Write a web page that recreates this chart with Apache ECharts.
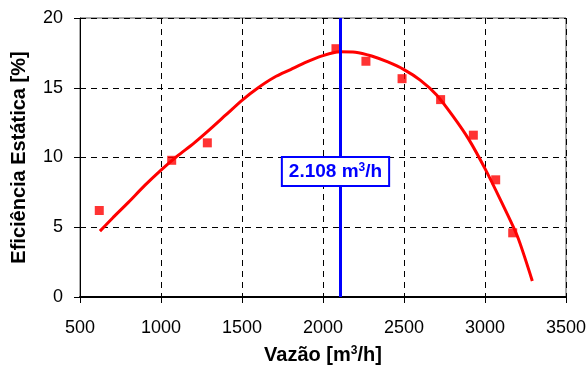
<!DOCTYPE html>
<html>
<head>
<meta charset="utf-8">
<script src="https://cdn.jsdelivr.net/npm/echarts@6/dist/echarts.min.js"></script>
<style>
  html, body { margin: 0; padding: 0; background: #ffffff; }
  #chart { width: 588px; height: 366px; }
</style>
</head>
<body>
<div id="chart"></div>
<script>
// Measured static efficiency vs. flow rate
const measuredFlow = [619, 1066, 1286, 2080, 2265, 2488, 2726, 2928, 3066, 3171];
const measuredEff  = [6.2, 9.8, 11.05, 17.8, 16.9, 15.65, 14.15, 11.6, 8.4, 4.6];

// Fitted efficiency curve
const fitFlow = [623, 700, 800, 900, 1000, 1100, 1200, 1300, 1400, 1500, 1600, 1700, 1800, 1900, 2000, 2100, 2200, 2300, 2400, 2500, 2600, 2700, 2800, 2900, 3000, 3100, 3200, 3292];
const fitEff  = [4.72, 5.65, 6.8, 8.0, 9.1, 10.1, 11.0, 12.0, 13.05, 14.1, 15.0, 15.75, 16.3, 16.85, 17.3, 17.58, 17.55, 17.28, 16.85, 16.3, 15.55, 14.5, 13.0, 11.3, 9.2, 6.85, 4.35, 1.15];

// Best efficiency flow marker
const bepFlow = 2108;
const bepLabelEff = 9.0;

const xTicks = { min: 500, max: 3500, step: 500 };
const yTicks = { min: 0, max: 20, step: 5 };

const chart = echarts.init(document.getElementById('chart'), null, { renderer: 'canvas' });

const fontFamily = 'Liberation Sans, Arial, sans-serif';
const gridDash = { type: [6, 5], color: '#000000', width: 1 };

chart.setOption({
  animation: false,
  backgroundColor: '#ffffff',
  grid: {
    left: 80, right: 22, top: 18, bottom: 69,
    containLabel: false, outerBoundsMode: 'none',
    show: true, borderColor: '#555555', borderWidth: 1
  },
  xAxis: {
    type: 'value',
    min: xTicks.min, max: xTicks.max, interval: xTicks.step,
    name: '{t|Vazão [m}{s|3}{t|/h]}',
    nameLocation: 'middle',
    nameGap: 48,
    nameTextStyle: {
      rich: {
        t: { fontFamily, fontSize: 20, fontWeight: 'bold', color: '#000' },
        s: { fontFamily, fontSize: 12, fontWeight: 'bold', color: '#000', verticalAlign: 'top', padding: [0, 0, 8, 0] }
      }
    },
    axisLine: { onZero: false, lineStyle: { color: '#000', width: 2 } },
    axisTick: { show: true, length: 6, lineStyle: { color: '#000', width: 1 } },
    axisLabel: { fontFamily, fontSize: 18, color: '#000', margin: 22, formatter: v => String(v) },
    splitLine: { show: true, lineStyle: gridDash }
  },
  yAxis: {
    type: 'value',
    min: yTicks.min, max: yTicks.max, interval: yTicks.step,
    name: 'Eficiência Estática [%]',
    nameLocation: 'middle',
    nameGap: 51,
    nameTextStyle: { fontFamily, fontSize: 20, fontWeight: 'bold', color: '#000' },
    axisLine: { show: true, lineStyle: { color: '#000', width: 1 } },
    axisTick: { show: true, length: 6, lineStyle: { color: '#000', width: 1 } },
    axisLabel: { fontFamily, fontSize: 18, color: '#000', margin: 17, formatter: v => String(v) },
    splitLine: { show: true, lineStyle: gridDash }
  },
  series: [
    {
      type: 'line',
      data: fitFlow.map((x, i) => [x, fitEff[i]]),
      smooth: 0.25,
      showSymbol: false,
      lineStyle: { color: '#ff0000', width: 3 },
      z: 3,
      markLine: {
        silent: true,
        symbol: ['none', 'none'],
        label: { show: false },
        lineStyle: { color: '#0000ff', width: 3, type: 'solid' },
        data: [{ xAxis: bepFlow }]
      },
      markPoint: {
        symbol: 'rect',
        symbolSize: 0,
        data: [{ coord: [bepFlow, bepLabelEff] }],
        label: {
          show: true,
          position: 'inside',
          offset: [-5, 0],
          formatter: '{t|2.108 m}{s|3}{t|/h}',
          backgroundColor: '#ffffff',
          borderColor: '#0000ff',
          borderWidth: 2,
          padding: [4, 6, 3, 6],
          rich: {
            t: { fontFamily, fontSize: 19, fontWeight: 'bold', color: '#0000ff' },
            s: { fontFamily, fontSize: 12, fontWeight: 'bold', color: '#0000ff', verticalAlign: 'top', padding: [0, 0, 8, 0] }
          }
        }
      }
    },
    {
      type: 'scatter',
      data: measuredFlow.map((x, i) => [x, measuredEff[i]]),
      symbol: 'rect',
      symbolSize: 9,
      itemStyle: { color: '#ff0000' },
      z: 4
    }
  ]
});
</script>
</body>
</html>
